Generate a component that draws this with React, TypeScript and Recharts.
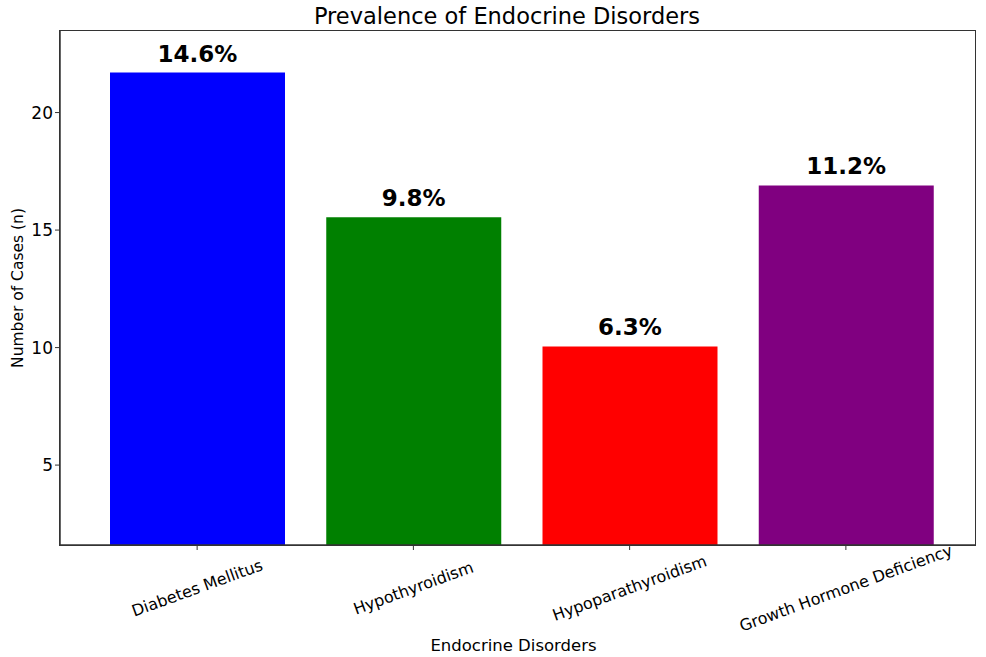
import { BarChart, Bar, XAxis, YAxis, Cell, LabelList } from 'recharts';

const disorders = ['Diabetes Mellitus', 'Hypothyroidism', 'Hypoparathyroidism', 'Growth Hormone Deficiency'];
const cases = [21.7, 15.55, 10.05, 16.9];
const prevalence = ['14.6%', '9.8%', '6.3%', '11.2%'];
const colors = ['#0000ff', '#008000', '#ff0000', '#800080'];
const yTicks = [5, 10, 15, 20];

const data = disorders.map((name, i) => ({ name, cases: cases[i], pct: prevalence[i] }));

const font = '"DejaVu Sans", sans-serif';
const frame = '#333333';

function RotatedTick(props: any) {
  const { x, y, payload } = props;
  const cy = y + 36;
  return (
    <text
      x={x}
      y={cy}
      textAnchor="middle"
      dominantBaseline="central"
      fontSize={16}
      fontFamily={font}
      fill="#000"
      transform={`rotate(-20, ${x}, ${cy})`}
    >
      {payload.value}
    </text>
  );
}

function YLabel(props: any) {
  const vb = props.viewBox || { x: 0, y: 31, width: 60, height: 514 };
  const x = vb.x + 18;
  const y = vb.y + vb.height / 2;
  return (
    <text x={x} y={y} textAnchor="middle" dominantBaseline="central" fontSize={15.5} fontFamily={font}
      fill="#000" transform={`rotate(-90, ${x}, ${y})`}>
      Number of Cases (n)
    </text>
  );
}

function XLabel(props: any) {
  const vb = props.viewBox || { x: 60, y: 545, width: 915, height: 112 };
  return (
    <text x={vb.x + vb.width / 2 - 4} y={vb.y + 100} textAnchor="middle" dominantBaseline="central"
      fontSize={16.5} fontFamily={font} fill="#000">
      Endocrine Disorders
    </text>
  );
}

export default function App() {
  return (
    <div style={{ position: 'absolute', left: 0, top: 0, width: 986, height: 657, background: '#fff' }}>
      <div
        style={{
          position: 'absolute',
          left: 507,
          top: 3,
          transform: 'translateX(-50%)',
          fontFamily: font,
          fontSize: 22.5,
          whiteSpace: 'nowrap',
          color: '#000',
        }}
      >
        Prevalence of Endocrine Disorders
      </div>
      <BarChart width={986} height={657} data={data} margin={{ top: 31, right: 11, left: 0, bottom: 0 }}>
        <XAxis
          dataKey="name"
          height={112}
          padding={{ left: 29, right: 21 }}
          tick={<RotatedTick />}
          tickLine={{ stroke: frame }}
          tickSize={5}
          axisLine={{ stroke: frame, strokeWidth: 1.5 }}
          interval={0}
          label={<XLabel />}
        />
        <YAxis
          width={60}
          domain={[1.6, 23.47]}
          allowDataOverflow
          ticks={yTicks}
          tick={{ fontSize: 17, fontFamily: font, fill: '#000' }}
          tickLine={{ stroke: frame }}
          tickSize={5}
          axisLine={{ stroke: frame, strokeWidth: 1.5 }}
          label={<YLabel />}
        />
        <Bar dataKey="cases" barSize={175} isAnimationActive={false}>
          {data.map((d, i) => (
            <Cell key={d.name} fill={colors[i]} />
          ))}
          <LabelList dataKey="pct" position="top" offset={11} fontSize={23} fontWeight="bold" fontFamily={font} fill="#000" />
        </Bar>
      </BarChart>
      {/* axes frame (top and right spines) */}
      <div
        style={{
          position: 'absolute',
          left: 59.25,
          top: 30.25,
          width: 916.5,
          height: 515.5,
          boxSizing: 'border-box',
          border: `1.5px solid ${frame}`,
          pointerEvents: 'none',
        }}
      />
    </div>
  );
}
